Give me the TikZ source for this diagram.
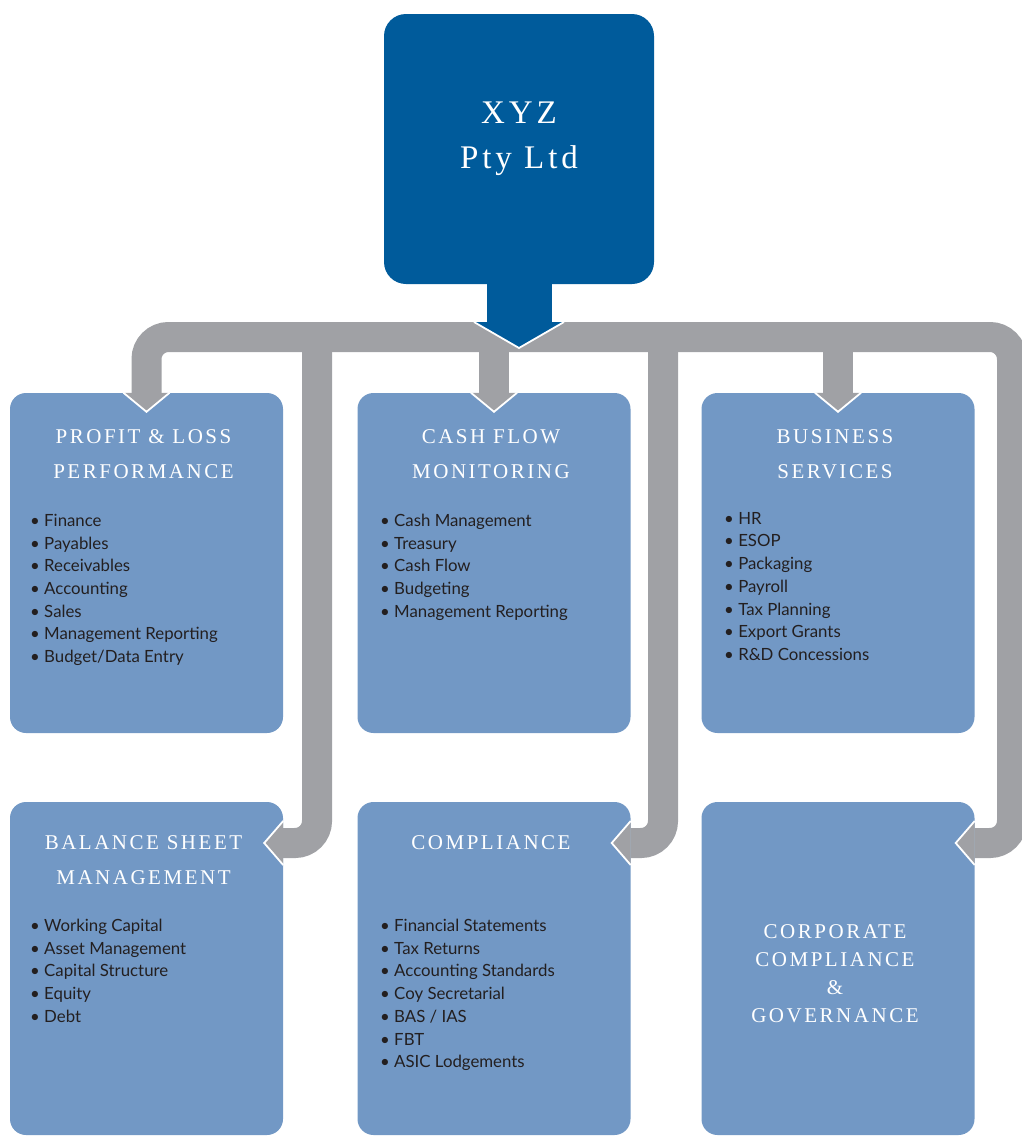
\documentclass[tikz,border=0pt]{standalone}
\usepackage{fontspec}
\setmainfont{Lato}
\newfontfamily\capsfont[LetterSpace=12]{Liberation Serif}
\definecolor{topblue}{HTML}{005B9B}
\definecolor{boxblue}{HTML}{7298C5}
\definecolor{pipegray}{HTML}{A0A1A5}
\definecolor{listtext}{HTML}{231F20}

\tikzset{
  unitbox/.style={fill=boxblue, rounded corners=16, inner sep=0, minimum width=273, minimum height=340},
  lowbox/.style={unitbox, minimum height=333},
  headtext/.style={text=white, font=\capsfont\fontsize{21}{35}\selectfont, align=center, anchor=north, inner sep=0, xshift=-3},
  itemtext/.style={text=listtext, font=\fontsize{16.8}{22.7}\selectfont, align=left, anchor=north west, inner sep=0},
  pipe/.style={draw=pipegray, line width=30, rounded corners=22},
  downhead/.pic={
    \fill[pipegray] (-23,0) -- (0,19) -- (23,0) -- cycle;
    \draw[white, line width=1.8] (-23,0) -- (0,19) -- (23,0);
  },
  lefthead/.pic={
    \fill[pipegray] (0,-22) -- (-19,0) -- (0,22) -- cycle;
    \draw[white, line width=1.8] (0,-22) -- (-19,0) -- (0,22);
  },
  hubhead/.pic={
    \fill[topblue] (-45,0) -- (0,26) -- (45,0) -- cycle;
    \draw[white, line width=1.8] (-45,0) -- (0,26) -- (45,0);
  }
}

\begin{document}
\begin{tikzpicture}[x=1pt, y=-1pt]
    \useasboundingbox (0,0) rectangle (1021,1136);

    % Company node
    \node[fill=topblue, rounded corners=22, minimum width=270, minimum height=270] (top) at (519,149) {};
    \node[text=white, font=\capsfont\fontsize{33}{45}\selectfont, align=center, anchor=north, inner sep=0] (toptext) at (519,102) {XYZ\\Pty Ltd};

    % Service boxes, first row
    \node[unitbox] (PL) at (146.5,563) {};
    \node[unitbox] (CF) at (494,563) {};
    \node[unitbox] (BS) at (838,563) {};

    % Service boxes, second row
    \node[lowbox] (BSM) at (146.5,968.5) {};
    \node[lowbox] (CO) at (494,968.5) {};
    \node[lowbox] (CC) at (838,968.5) {};

    % Bar coordinates
    \coordinate (hub) at (519,322);
    \coordinate (barR) at (1012,337);
    \coordinate (barL) at (317,337);
    \coordinate (barM) at (663,337);
    \coordinate (arm) at (0,843);

    % Gray connectors
    \draw[pipe] (PL.north) |- (barR) |- (CC.east |- arm);
    \draw[pipe] (barL) |- (BSM.east |- arm);
    \draw[pipe] (barM) |- (CO.east |- arm);
    \draw[pipe] (CF.north) -- (CF.north |- barR);
    \draw[pipe] (BS.north) -- (BS.north |- barR);

    % Company arrow
    \draw[topblue, line width=65] (top.south) -- (hub);
    \pic at (hub) {hubhead};

    % Arrow heads
    \pic at (PL.north) {downhead};
    \pic at (CF.north) {downhead};
    \pic at (BS.north) {downhead};
    \pic at (BSM.east |- arm) {lefthead};
    \pic at (CO.east |- arm) {lefthead};
    \pic at (CC.east |- arm) {lefthead};

    % Titles
    \node[headtext] (PLhead) at (146.5,429) {PROFIT \& LOSS\\PERFORMANCE};
    \node[headtext] (CFhead) at (494,429) {CASH FLOW\\MONITORING};
    \node[headtext] (BShead) at (838,429) {BUSINESS\\SERVICES};
    \node[headtext] (BSMhead) at (146.5,835) {BALANCE SHEET\\MANAGEMENT};
    \node[headtext] (COhead) at (494,835) {COMPLIANCE};
    \node[headtext, font=\capsfont\fontsize{21}{28}\selectfont] (CChead) at (838,924) {CORPORATE\\COMPLIANCE\\\&\\GOVERNANCE};

    % Lists
    \node[itemtext] (PLlist) at (30,514) {• Finance\\• Payables\\• Receivables\\• Accounting\\• Sales\\• Management Reporting\\• Budget/Data Entry};
    \node[itemtext] (CFlist) at (380,514) {• Cash Management\\• Treasury\\• Cash Flow\\• Budgeting\\• Management Reporting};
    \node[itemtext] (BSlist) at (724,512) {• HR\\• ESOP\\• Packaging\\• Payroll\\• Tax Planning\\• Export Grants\\• R\&D Concessions};
    \node[itemtext] (BSMlist) at (30,919) {• Working Capital\\• Asset Management\\• Capital Structure\\• Equity\\• Debt};
    \node[itemtext] (COlist) at (380,919) {• Financial Statements\\• Tax Returns\\• Accounting Standards\\• Coy Secretarial\\• BAS / IAS\\• FBT\\• ASIC Lodgements};
\end{tikzpicture}
\end{document}
